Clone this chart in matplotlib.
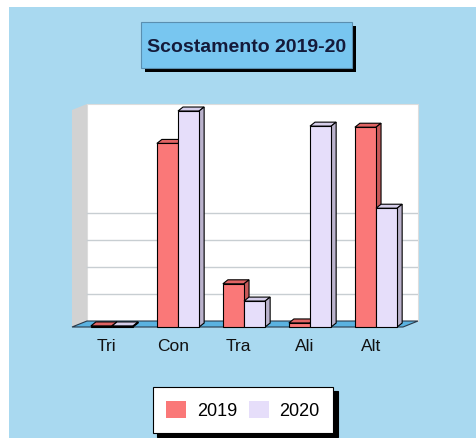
import matplotlib.pyplot as plt
from matplotlib.patches import Polygon, Rectangle
import numpy as np

plt.rcParams['font.family'] = ['Liberation Sans', 'DejaVu Sans']

# data
categories = ['Tri', 'Con', 'Tra', 'Ali', 'Alt']
years = ['2019', '2020']
values_2019 = [0.4, 68, 16, 1.5, 74]
values_2020 = [0.4, 80, 9.6, 74.4, 44]

# colours: front, top, side
red = ['#FA7878', '#E06464', '#C85A5A']
lav = ['#E6DEFA', '#D6CEEA', '#BAB2CC']
bg = '#A9D9F0'

W, H = 477, 439
fig = plt.figure(figsize=(W / 100, H / 100), dpi=100)
fig.patch.set_facecolor('white')
# blue panel, white strip on top and left
fig.patches.append(Rectangle((9 / W, 0), 1, (H - 8) / H, transform=fig.transFigure,
                             facecolor=bg, edgecolor='none', zorder=-10))

# plot area (pixels: x 72..418, y 105..330)
ax = fig.add_axes([72 / W, (H - 330) / H, 346 / W, 225 / H])
xmin, xmax = -0.606, 4.636
ymin, ymax = -0.74, 82.6
ax.set_xlim(xmin, xmax)
ax.set_ylim(ymin, ymax)
ax.axis('off')

# depth of walls and bars in data units
bx, by = 0.227, 2.22
dx, dy = 0.076, 1.48
w = 0.32

# back wall, left wall, floor
ax.add_patch(Rectangle((xmin + bx, by), xmax - xmin - bx, ymax - by,
                       facecolor='white', edgecolor='#DDDDDD', lw=0.8, zorder=1, clip_on=False))
for g in [10, 20, 30, 40]:
    ax.plot([xmin + bx, xmax], [g + by, g + by], color='#C8CED2', lw=1, zorder=1.5)
ax.add_patch(Polygon([(xmin, 0), (xmin + bx, by), (xmin + bx, ymax), (xmin, ymax - by)],
                     closed=True, facecolor='#D2D2D2', edgecolor='none', zorder=1, clip_on=False))
ax.add_patch(Polygon([(xmin, 0), (xmax - bx, 0), (xmax, by), (xmin + bx, by)],
                     closed=True, facecolor='#5AB2E0', edgecolor='#2A3A4A', lw=0.8, zorder=2, clip_on=False))

x = np.arange(len(categories))
b1 = ax.bar(x - w, values_2019, w, align='edge', color=red[0], edgecolor='black', lw=0.8, zorder=3, label=years[0])
b2 = ax.bar(x, values_2020, w, align='edge', color=lav[0], edgecolor='black', lw=0.8, zorder=5, label=years[1])


def faces(bars, cols, z):
    for r in bars:
        x0, h = r.get_x(), r.get_height()
        x1 = x0 + r.get_width()
        top = [(x0, h), (x1, h), (x1 + dx, h + dy), (x0 + dx, h + dy)]
        side = [(x1, 0), (x1 + dx, dy), (x1 + dx, h + dy), (x1, h)]
        ax.add_patch(Polygon(top, closed=True, facecolor=cols[1], edgecolor='black', lw=0.8, zorder=z))
        ax.add_patch(Polygon(side, closed=True, facecolor=cols[2], edgecolor='black', lw=0.8, zorder=z))


faces(b1, red, 2.9)
faces(b2, lav, 4.9)

for i, c in enumerate(categories):
    ax.text(i - 0.08, -6.7, c, ha='center', va='center', fontsize=12.5, color='#111111', clip_on=False)

# title box with shadow
tx0, tx1, ty0, ty1 = 141, 352, 23, 69
fig.patches.append(Rectangle(((tx0 + 4) / W, (H - ty1 - 4) / H), (tx1 - tx0) / W, (ty1 - ty0) / H,
                             transform=fig.transFigure, facecolor='black', edgecolor='none'))
fig.patches.append(Rectangle((tx0 / W, (H - ty1) / H), (tx1 - tx0) / W, (ty1 - ty0) / H,
                             transform=fig.transFigure, facecolor='#78C6F0', edgecolor='#5A8FB0', lw=0.8))
fig.text((tx0 + tx1) / 2 / W, 1 - 47 / H, 'Scostamento 2019-20', ha='center', va='center',
         fontsize=14, fontweight='bold', color='#141A3A')

# legend
leg = fig.legend(handles=[b1, b2], labels=years, loc='center', bbox_to_anchor=(243 / W, 1 - 411 / H),
                 ncol=2, fontsize=13, fancybox=False, shadow={'color': 'black', 'alpha': 1, 'ox': 3, 'oy': -3},
                 edgecolor='black', framealpha=1, handlelength=1.1, handleheight=1.1,
                 columnspacing=0.65, handletextpad=0.6, borderpad=0.75)
leg.get_frame().set_linewidth(0.8)
for p in leg.get_patches():
    p.set_edgecolor('none')

fig.savefig('out.png', dpi=100, facecolor=fig.get_facecolor())
